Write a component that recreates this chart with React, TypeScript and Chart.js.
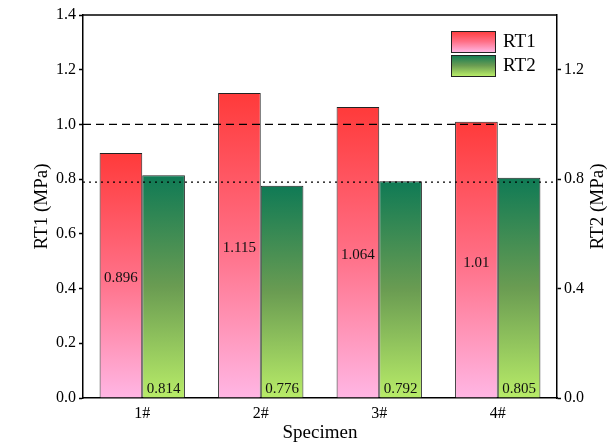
import { useEffect, useRef } from "react";
import { Chart, registerables } from "chart.js";
Chart.register(...registerables);

const categories = ["1#", "2#", "3#", "4#"];
const rt1Values = [0.896, 1.115, 1.064, 1.01];
const rt2Values = [0.814, 0.776, 0.792, 0.805];
const dashedRef = 1.0;
const dottedRef = 0.789;
const rightTickValues = [0, 0.4, 0.8, 1.2];
const rt1Colors = ["#ff3a3a", "#ff6f86", "#ffb6e4"];
const rt2Colors = ["#0f7a55", "#6a9c52", "#b8ec68"];
const FONT = "'Liberation Serif', 'Times New Roman', serif";

function makeGrad(c: CanvasRenderingContext2D, y0: number, y1: number, cols: string[]) {
  const g = c.createLinearGradient(0, y0, 0, y1);
  g.addColorStop(0, cols[0]);
  g.addColorStop(0.5, cols[1]);
  g.addColorStop(1, cols[2]);
  return g;
}

function barFill(cols: string[]) {
  return (ctx: any) => {
    const chart = ctx.chart;
    const ys = chart.scales && chart.scales.y;
    if (!chart.chartArea || !ys || ctx.type !== "data") return cols[0];
    const v = ctx.raw as number;
    return makeGrad(chart.ctx, ys.getPixelForValue(v), ys.getPixelForValue(0), cols);
  };
}

const overlay = {
  id: "overlay",
  afterDatasetsDraw(chart: any) {
    const c: CanvasRenderingContext2D = chart.ctx;
    const { left, right, top, bottom } = chart.chartArea;
    const ys = chart.scales.y;
    c.save();
    c.strokeStyle = "#000";
    c.lineWidth = 1.3;
    c.setLineDash([8, 5]);
    let y = ys.getPixelForValue(dashedRef);
    c.beginPath(); c.moveTo(left, y); c.lineTo(right, y); c.stroke();
    c.setLineDash([2, 4]);
    y = ys.getPixelForValue(dottedRef);
    c.beginPath(); c.moveTo(left, y); c.lineTo(right, y); c.stroke();
    c.setLineDash([]);
    c.lineWidth = 1.5;
    c.beginPath(); c.moveTo(left, top); c.lineTo(right, top); c.stroke();
    c.fillStyle = "#111";
    c.font = `15px ${FONT}`;
    c.textAlign = "center";
    c.textBaseline = "middle";
    const m0 = chart.getDatasetMeta(0);
    m0.data.forEach((el: any, i: number) => {
      c.fillText(String(rt1Values[i]), el.x, (el.y + el.base) / 2 + 3);
    });
    const m1 = chart.getDatasetMeta(1);
    m1.data.forEach((el: any, i: number) => {
      c.fillText(String(rt2Values[i]), el.x, el.base - 8);
    });
    const lx = 451, bw = 44, bh = 21;
    const items = [
      { label: "RT1", cols: rt1Colors, y: 31 },
      { label: "RT2", cols: rt2Colors, y: 55 },
    ];
    items.forEach((it) => {
      c.fillStyle = makeGrad(c, it.y, it.y + bh, it.cols);
      c.fillRect(lx, it.y, bw, bh);
      c.strokeStyle = "#222";
      c.lineWidth = 1;
      c.strokeRect(lx + 0.5, it.y + 0.5, bw, bh);
      c.fillStyle = "#000";
      c.font = `19px ${FONT}`;
      c.textAlign = "left";
      c.fillText(it.label, lx + bw + 8, it.y + bh / 2 + 1);
    });
    c.save();
    c.translate(598, (top + bottom) / 2);
    c.rotate(-Math.PI / 2);
    c.textAlign = "center";
    c.textBaseline = "middle";
    c.font = `19px ${FONT}`;
    c.fillText("RT2 (MPa)", 0, 0);
    c.restore();
    c.restore();
  },
};

export default function App() {
  const ref = useRef<HTMLCanvasElement>(null);
  useEffect(() => {
    document.body.style.margin = "0";
    const chart = new Chart(ref.current!, {
      type: "bar",
      data: {
        labels: categories,
        datasets: [
          {
            label: "RT1",
            data: rt1Values,
            backgroundColor: barFill(rt1Colors),
            borderColor: "#222",
            borderWidth: 1,
            categoryPercentage: 0.72,
            barPercentage: 1,
          },
          {
            label: "RT2",
            data: rt2Values,
            backgroundColor: barFill(rt2Colors),
            borderColor: "#222",
            borderWidth: 1,
            categoryPercentage: 0.72,
            barPercentage: 1,
          },
        ],
      },
      options: {
        responsive: false,
        animation: false,
        layout: { padding: { left: 27, right: 12, top: 15, bottom: 0 } },
        plugins: { legend: { display: false }, tooltip: { enabled: false } },
        scales: {
          x: {
            grid: { display: false, drawTicks: false },
            border: { color: "#000", width: 1.5 },
            ticks: { color: "#000", font: { family: FONT, size: 16 }, padding: 6 },
            title: { display: true, text: "Specimen", color: "#000", font: { family: FONT, size: 19 }, padding: { top: 0, bottom: 0 } },
            afterFit: (s: any) => { s.height = 46; },
          },
          y: {
            position: "left",
            min: 0,
            max: 1.4,
            grid: { drawOnChartArea: false, tickLength: 4, tickColor: "#000", tickWidth: 1.5 },
            border: { color: "#000", width: 1.5 },
            ticks: { stepSize: 0.2, color: "#000", font: { family: FONT, size: 16 }, padding: 3, callback: (v: any) => Number(v).toFixed(1) },
            title: { display: true, text: "RT1 (MPa)", color: "#000", font: { family: FONT, size: 19 } },
            afterFit: (s: any) => { s.width = 56; },
          },
          y2: {
            position: "right",
            min: 0,
            max: 1.4,
            grid: { drawOnChartArea: false, tickLength: 4, tickColor: "#000", tickWidth: 1.5 },
            border: { color: "#000", width: 1.5 },
            ticks: { color: "#000", font: { family: FONT, size: 16 }, padding: 3, callback: (v: any) => Number(v).toFixed(1) },
            afterBuildTicks: (s: any) => { s.ticks = rightTickValues.map((v) => ({ value: v })); },
            afterFit: (s: any) => { s.width = 41; },
          },
        },
      },
      plugins: [overlay],
    });
    return () => chart.destroy();
  }, []);
  return <canvas ref={ref} width={610} height={444} style={{ display: "block" }} />;
}
